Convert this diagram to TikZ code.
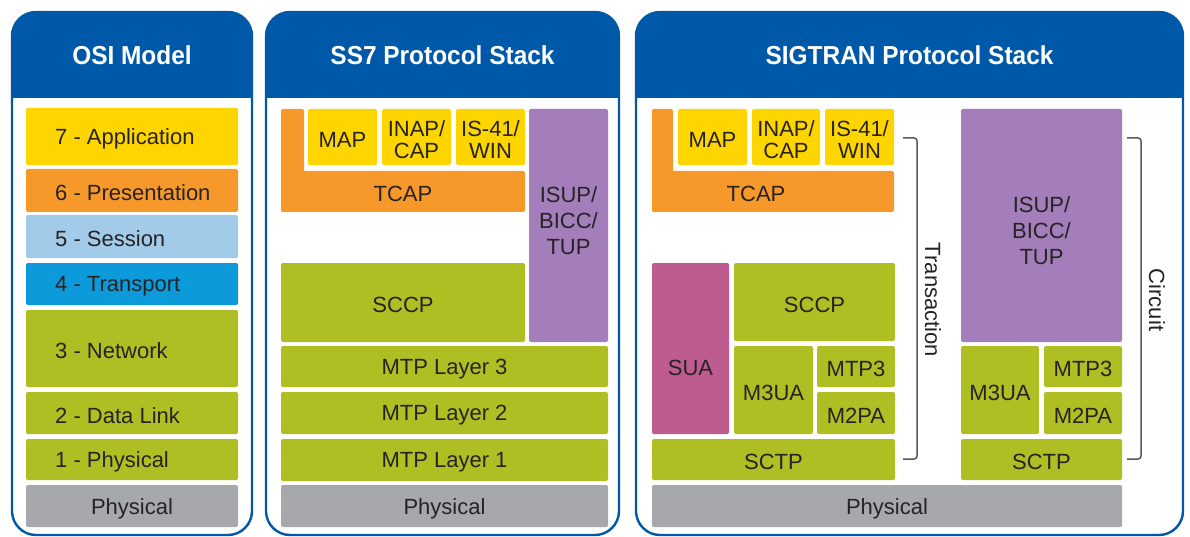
\documentclass[tikz,border=0pt]{standalone}
\usepackage{fontspec}
\setmainfont{Liberation Sans}
\newfontfamily\hdrfont[FakeStretch=0.94]{Liberation Sans}
\definecolor{hblue}{HTML}{0059A8}
\definecolor{cyel}{HTML}{FFD500}
\definecolor{corg}{HTML}{F7982A}
\definecolor{clblue}{HTML}{A2CBEA}
\definecolor{cblue}{HTML}{0D9ADB}
\definecolor{cgrn}{HTML}{AFBE22}
\definecolor{cgray}{HTML}{A7A8AB}
\definecolor{cpur}{HTML}{A47EBA}
\definecolor{cmag}{HTML}{BE5B8F}
\definecolor{ctxt}{HTML}{262324}
\definecolor{cbrk}{HTML}{58595B}
\newcommand\bx[8][]{\node[blk,fill=#7,minimum width=#4pt-#2pt,minimum height=#5pt-#3pt] (#2x#3) at ({(#2+#4)/2},{(#3+#5)/2}) {};
  \node[lbl,#1] (#6) at ({(#2+#4)/2},{(#3+#5)/2}) {#8};}
\begin{document}
\begin{tikzpicture}[x=1pt,y=-1pt,
  blk/.style={rectangle,rounded corners=2pt,inner sep=0pt,outer sep=0pt,draw=none},
  lbl/.style={inner sep=0pt,yshift=-2.5pt,text=ctxt,align=center,font=\fontsize{22}{22}\selectfont},
  twol/.style={font=\fontsize{22}{22}\selectfont},
  threel/.style={font=\fontsize{22}{26}\selectfont},
  hdr/.style={text=white,font=\hdrfont\bfseries\fontsize{26}{28}\selectfont},
  panel/.style={draw=hblue,line width=2.4pt,fill=white,rounded corners=24pt},
  brk/.style={draw=cbrk,line width=1.5pt,rounded corners=3pt},
  side/.style={text=ctxt,rotate=-90,font=\fontsize{22}{22}\selectfont,inner sep=0pt}]
\useasboundingbox (0,0) rectangle (1190,537);
% panels
\foreach \a/\b in {12/252,266/619,636/1183}{
  \path[panel] (\a,12) rectangle (\b,535);
  \fill[hblue] (\a,98) {[rounded corners=24pt] -- (\a,12) -- (\b,12)} -- (\b,98) -- cycle;
}
\node[hdr] (h1) at (132,55) {OSI Model};
\node[hdr] (h2) at (442.5,55) {SS7 Protocol Stack};
\node[hdr] (h3) at (909.5,55) {SIGTRAN Protocol Stack};
% OSI
\foreach \n/\ya/\yb/\c/\t in {o7/108/165/cyel/7 - Application,o6/169/212/corg/6 - Presentation,
  o5/215/258/clblue/5 - Session,o4/263/305/cblue/4 - Transport,o3/310/387/cgrn/3 - Network,
  o2/392/434/cgrn/2 - Data Link,o1/439/480/cgrn/1 - Physical}{
  \node[blk,fill=\c,minimum width=212pt,minimum height=\yb pt-\ya pt] (\n) at (132,{(\ya+\yb)/2}) {};
  \node[lbl,anchor=west] (\n t) at ([xshift=29pt]\n.west) {\t};
}
\bx{26}{485}{238}{527}{ophys}{cgray}{Physical}
% SS7
\fill[corg,rounded corners=2pt] (281,109) rectangle (304,212);
\bx{281}{171}{525}{212}{stcap}{corg}{TCAP}
\bx{308}{109}{377}{165}{smap}{cyel}{MAP}
\bx[twol]{382}{109}{451}{165}{sinap}{cyel}{INAP/\\CAP}
\bx[twol]{456}{109}{525}{165}{sis}{cyel}{IS-41/\\WIN}
\node[blk,fill=cpur,minimum width=79pt,minimum height=233pt] (sisupb) at (568.5,225.5) {};
\node[lbl,threel] (sisup) at (568.5,218) {ISUP/\\BICC/\\TUP};
\bx{281}{263}{525}{342}{ssccp}{cgrn}{SCCP}
\bx{281}{346}{608}{387}{smtp3}{cgrn}{MTP Layer 3}
\bx{281}{392}{608}{434}{smtp2}{cgrn}{MTP Layer 2}
\bx{281}{439}{608}{481}{smtp1}{cgrn}{MTP Layer 1}
\bx{281}{485}{608}{527}{sphys}{cgray}{Physical}
% SIGTRAN
\fill[corg,rounded corners=2pt] (652,109) rectangle (673,212);
\node[blk,fill=corg,minimum width=242pt,minimum height=41pt] (gtcapb) at (773,191.5) {};
\node[lbl] (gtcap) at (756,191.5) {TCAP};
\bx{678}{109}{747}{165}{gmap}{cyel}{MAP}
\bx[twol]{752}{109}{820}{165}{ginap}{cyel}{INAP/\\CAP}
\bx[twol]{825}{109}{894}{165}{gis}{cyel}{IS-41/\\WIN}
\node[blk,fill=cmag,minimum width=77pt,minimum height=171pt] (gsuab) at (690.5,348.5) {};
\node[lbl] (gsua) at (690.5,365) {SUA};
\bx{734}{263}{895}{341}{gsccp}{cgrn}{SCCP}
\bx{734}{346}{813}{434}{gm3ua}{cgrn}{M3UA}
\bx{817}{346}{895}{387}{gmtp3}{cgrn}{MTP3}
\bx{817}{392}{895}{434}{gm2pa}{cgrn}{M2PA}
\bx{652}{439}{895}{480}{gsctp}{cgrn}{SCTP}
\node[blk,fill=cpur,minimum width=161pt,minimum height=233pt] (cisupb) at (1041.5,225.5) {};
\node[lbl,threel] (cisup) at (1041.5,228) {ISUP/\\BICC/\\TUP};
\bx{961}{346}{1039}{434}{cm3ua}{cgrn}{M3UA}
\bx{1044}{346}{1122}{387}{cmtp3}{cgrn}{MTP3}
\bx{1044}{392}{1122}{434}{cm2pa}{cgrn}{M2PA}
\bx{961}{439}{1122}{480}{csctp}{cgrn}{SCTP}
\bx{652}{485}{1122}{527}{gphys}{cgray}{Physical}
% brackets
\coordinate (ta) at (903,138); \coordinate (tb) at (903,459);
\coordinate (ca) at (1127,138); \coordinate (cb) at (1127,459);
\draw[brk] (ta) -- ++(14,0) |- (tb);
\draw[brk] (ca) -- ++(14,0) |- (cb);
\node[side] (trans) at (933,300) {Transaction};
\node[side] (circ) at (1157,300) {Circuit};
\end{tikzpicture}
\end{document}
